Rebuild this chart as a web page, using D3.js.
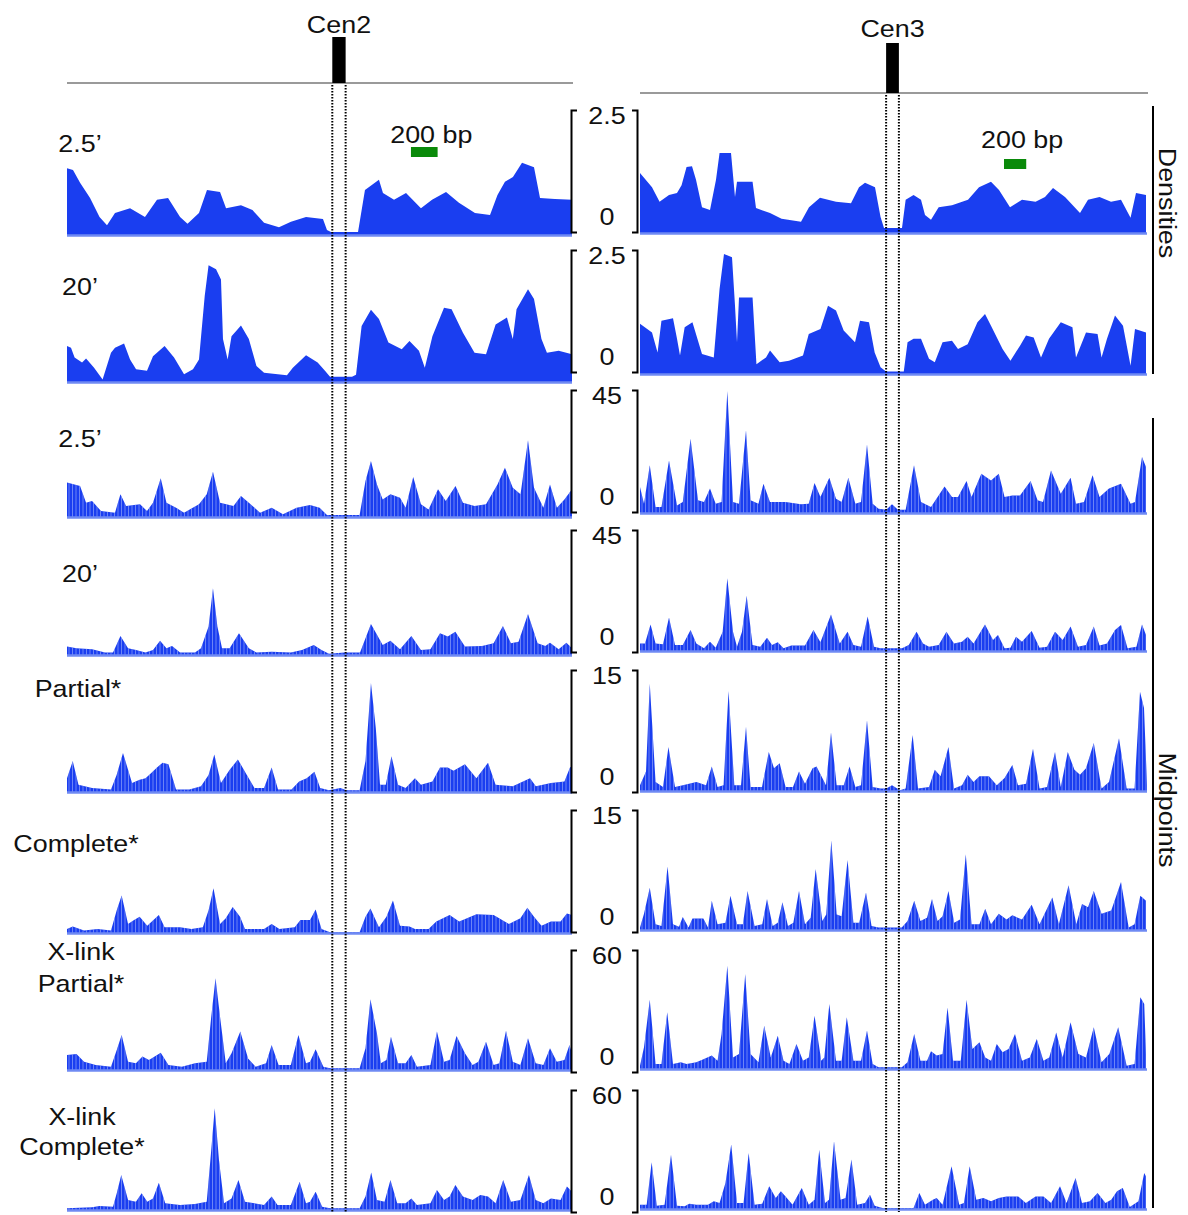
<!DOCTYPE html>
<html>
<head>
<meta charset="utf-8">
<script src="https://cdn.jsdelivr.net/npm/d3@7"></script>
<style>
  body { margin: 0; background: #fff; }
  svg { font-family: "Liberation Sans", Arial, sans-serif; }
</style>
</head>
<body>
<svg id="chart" width="1188" height="1215"></svg>
<script>
// ---- data (bp position, value) ----
const cen2Length = 3788;
const cen3Length = 4563;
const cen2Span = [1990, 2090];
const cen3Span = [2215, 2330];
const scaleBarBp = 200;
const scaleBarStart = [2580, 3276];

const rowLabels = [["2.5’"], ["20’"], ["2.5’"], ["20’"], ["Partial*"], ["Complete*"], ["X-link", "Partial*"], ["X-link", "Complete*"]];
const rowMax = [2.5, 2.5, 45, 45, 15, 15, 60, 60];
const groupLabels = ["Densities", "Midpoints"];

const cen2Dens25 = [[0,1.37],[45,1.33],[98,1.07],[173,0.76],[244,0.37],[300,0.2],[360,0.45],[473,0.55],[585,0.37],[675,0.72],[758,0.76],[848,0.37],[904,0.23],[990,0.45],[1050,0.92],[1148,0.88],[1193,0.55],[1305,0.61],[1391,0.51],[1478,0.25],[1590,0.16],[1680,0.27],[1793,0.37],[1920,0.33],[1950,0.1],[1980,0.06],[2183,0.06],[2235,0.92],[2340,1.13],[2370,0.86],[2453,0.72],[2543,0.86],[2655,0.55],[2738,0.72],[2843,0.88],[2940,0.66],[3060,0.45],[3173,0.41],[3229,0.82],[3285,1.09],[3345,1.19],[3413,1.48],[3503,1.39],[3548,0.76],[3660,0.74],[3788,0.72]];
const cen2Dens20 = [[0,0.74],[30,0.7],[57,0.5],[113,0.4],[143,0.48],[203,0.29],[267,0.05],[330,0.6],[360,0.7],[428,0.79],[473,0.46],[518,0.26],[600,0.23],[645,0.53],[732,0.74],[803,0.5],[878,0.16],[945,0.26],[990,0.46],[1033,1.76],[1062,2.39],[1118,2.31],[1155,2.1],[1170,0.88],[1205,0.46],[1234,0.94],[1305,1.16],[1364,0.88],[1421,0.33],[1478,0.19],[1650,0.14],[1694,0.29],[1793,0.55],[1880,0.4],[1935,0.23],[1973,0.11],[2138,0.11],[2168,0.15],[2210,1.15],[2280,1.48],[2340,1.29],[2411,0.81],[2511,0.67],[2569,0.84],[2640,0.64],[2684,0.29],[2741,0.94],[2828,1.52],[2885,1.49],[2970,1.01],[3057,0.6],[3143,0.57],[3215,1.18],[3300,1.32],[3344,0.88],[3372,1.49],[3458,1.9],[3503,1.7],[3559,0.88],[3600,0.6],[3688,0.64],[3788,0.57]];
const cen2Mid25 = [[0,12.7],[98,11.4],[143,5.3],[188,5.9],[255,2.2],[360,1.6],[401,8.4],[443,4.1],[548,4.7],[600,2.2],[645,5.3],[703,14.3],[746,5.3],[818,3.4],[878,1.6],[990,4.7],[1048,8.4],[1095,16.7],[1148,5.3],[1249,4.1],[1305,7.7],[1364,5.3],[1448,1.6],[1536,3.4],[1620,1],[1722,3.4],[1823,4.4],[1895,3.4],[1950,0.7],[2195,0.7],[2239,13.3],[2280,20.7],[2325,12],[2368,6.5],[2426,8.4],[2498,7.1],[2540,3.4],[2597,14.8],[2655,4.7],[2712,2.8],[2783,10.2],[2841,5.9],[2914,11.4],[2970,5.3],[3057,4.1],[3143,4.7],[3229,12],[3285,18.2],[3344,10.8],[3402,8.4],[3458,28.3],[3503,10.8],[3573,3.4],[3623,12],[3675,3.4],[3731,6.5],[3788,10.2]];
const cen2Mid20 = [[0,3.1],[71,2.5],[188,2.1],[285,0.9],[345,0.9],[401,7],[458,2.5],[518,1.8],[588,0.9],[645,1.8],[698,5.3],[746,2.5],[788,3.3],[848,0.9],[960,0.9],[1005,2.5],[1062,10.5],[1095,24.6],[1128,10.5],[1163,2.5],[1220,2.5],[1290,8],[1364,2.5],[1421,0.9],[1535,1.2],[1679,0.9],[1763,1.8],[1851,3.7],[1909,1.8],[1965,0.5],[2081,0.9],[2198,0.9],[2280,11.4],[2368,3.7],[2426,5.3],[2498,2.1],[2583,7],[2655,1.8],[2726,2.1],[2798,8],[2856,6.8],[2913,8.6],[2985,3.1],[3113,3.3],[3200,4.3],[3270,10.7],[3330,4.3],[3387,4.9],[3458,15.1],[3530,4.3],[3588,3.3],[3623,4.5],[3688,2.1],[3746,4.5],[3788,2.5]];
const cen2Partial = [[0,1.7],[43,3.8],[86,0.9],[188,0.5],[330,0.3],[372,2.1],[420,4.8],[488,1.1],[545,1.5],[589,1.7],[630,2.3],[675,3],[717,3.6],[761,3.4],[818,0.3],[918,0.3],[1005,0.7],[1062,2.1],[1105,4.6],[1155,1.1],[1219,2.7],[1282,4],[1349,2.1],[1406,0.5],[1478,0.5],[1535,3],[1583,0.3],[1684,0.3],[1741,1.3],[1798,1.7],[1856,2.5],[1899,0.5],[1965,0.2],[2051,0.5],[2095,0.2],[2195,0.2],[2239,3.8],[2280,13.4],[2316,7.9],[2348,0.9],[2391,0.9],[2434,4.4],[2483,0.9],[2540,0.5],[2610,1.7],[2655,0.9],[2741,1.3],[2798,3],[2856,3],[2899,2.6],[2985,3.4],[3071,1.7],[3158,3.6],[3215,0.9],[3344,0.7],[3473,1.7],[3517,0.7],[3630,1.1],[3731,1.3],[3773,3],[3788,3.2]];
const cen2Complete = [[0,0.5],[43,0.8],[128,0.3],[230,0.5],[330,0.3],[373,2.8],[410,4.6],[458,1.1],[503,1.6],[545,2],[602,0.9],[689,2.2],[732,0.7],[848,0.7],[933,0.5],[1019,0.7],[1062,2.8],[1099,5.5],[1148,1.1],[1191,1.8],[1243,3.2],[1298,2],[1335,0.5],[1478,0.5],[1535,1.1],[1593,0.5],[1708,0.7],[1751,1.6],[1823,1.6],[1865,2.9],[1909,0.5],[1973,0.1],[2195,0.1],[2239,2],[2276,3],[2340,0.7],[2396,2],[2445,4],[2498,0.9],[2569,0.8],[2610,0.5],[2712,0.5],[2770,1.4],[2870,2.2],[2942,1.4],[3000,1.8],[3071,2.3],[3200,2.2],[3315,1.1],[3401,1.8],[3453,3.1],[3503,2],[3559,0.9],[3630,1.4],[3702,1.4],[3750,2.4],[3788,2.2]];
const cen2XPartial = [[0,7.4],[71,7.9],[128,4.1],[215,2.5],[330,1.6],[373,9.8],[410,17.2],[458,4.1],[517,3.3],[566,6.6],[615,4.9],[703,8.5],[761,2.5],[861,1.6],[960,3.3],[1048,4.1],[1082,26.2],[1114,45.1],[1148,26.2],[1191,3.3],[1234,8.2],[1300,18.9],[1358,5.7],[1415,1.6],[1493,3.3],[1535,12.3],[1587,2.5],[1679,2.5],[1736,17.2],[1793,3.3],[1823,4.1],[1865,10.2],[1923,1.6],[1973,0.8],[2195,0.8],[2239,10.7],[2276,34.8],[2325,18],[2354,3.3],[2396,4.9],[2430,16.4],[2483,3.3],[2540,3.3],[2583,7.4],[2625,1.6],[2726,2.5],[2775,18.9],[2828,4.1],[2870,4.9],[2922,16.7],[2985,8.2],[3042,2.5],[3086,4.1],[3143,13.9],[3200,2.5],[3243,3.3],[3293,19.3],[3344,4.1],[3401,2.5],[3458,15.6],[3516,3.3],[3573,2.5],[3623,10.7],[3674,4.1],[3731,4.9],[3769,12.3],[3788,8.2]];
const cen2XComplete = [[0,0.8],[188,1.3],[244,2],[345,1.6],[373,8.2],[407,17.2],[458,4.9],[517,4.1],[560,8.2],[602,4.1],[645,5.7],[689,13.4],[737,3.3],[848,2.5],[960,3],[1048,4.1],[1082,29.5],[1108,50],[1140,24.6],[1178,3.3],[1234,5.7],[1286,14.8],[1335,4.1],[1478,2.5],[1535,6.6],[1579,2.5],[1679,2.5],[1745,13.9],[1793,3.3],[1823,4.1],[1865,9],[1914,1.6],[1973,0.8],[2195,0.8],[2239,6.6],[2282,18.4],[2325,4.9],[2382,4.1],[2426,14.8],[2477,3.3],[2540,3.3],[2583,5.7],[2625,2.5],[2726,3.3],[2775,9.8],[2828,4.9],[2870,6.6],[2913,12.3],[2970,6.6],[3042,4.9],[3100,7.4],[3158,6.6],[3215,3.3],[3272,14.8],[3330,4.1],[3401,4.9],[3465,17.2],[3516,4.9],[3573,3.3],[3630,5.7],[3702,4.9],[3750,11.5],[3788,9]];

const cen3Dens25 = [[0,1.23],[108,0.94],[176,0.64],[261,0.78],[333,0.82],[374,0.98],[419,1.35],[468,1.37],[504,1.09],[558,0.53],[630,0.47],[684,1.09],[716,1.64],[819,1.64],[855,0.74],[873,1.05],[1013,1.05],[1044,0.51],[1170,0.41],[1274,0.29],[1449,0.23],[1521,0.53],[1620,0.72],[1764,0.64],[1899,0.61],[1971,0.94],[2025,1.03],[2115,0.94],[2165,0.33],[2196,0.1],[2358,0.1],[2391,0.68],[2462,0.78],[2529,0.68],[2565,0.37],[2619,0.27],[2688,0.53],[2808,0.57],[2952,0.68],[3051,0.94],[3159,1.05],[3231,0.88],[3330,0.53],[3438,0.68],[3560,0.64],[3645,0.74],[3717,0.92],[3825,0.74],[3960,0.41],[4032,0.68],[4136,0.74],[4239,0.64],[4329,0.68],[4415,0.31],[4464,0.82],[4554,0.78]];
const cen3Dens20 = [[0,1.03],[108,0.85],[158,0.44],[193,1.09],[297,1.14],[333,0.72],[360,0.38],[402,0.96],[472,1.06],[558,0.41],[664,0.34],[716,1.74],[756,2.46],[828,2.39],[855,1.4],[873,0.65],[891,1.57],[1013,1.57],[1048,0.2],[1134,0.34],[1170,0.48],[1257,0.24],[1341,0.27],[1467,0.38],[1519,0.82],[1624,0.92],[1692,1.4],[1764,1.3],[1833,0.89],[1935,0.65],[1980,1.09],[2061,1.06],[2112,0.44],[2165,0.14],[2214,0.05],[2374,0.05],[2408,0.65],[2462,0.72],[2529,0.72],[2601,0.31],[2653,0.24],[2723,0.65],[2808,0.68],[2862,0.51],[2949,0.61],[3037,1.06],[3105,1.23],[3159,0.99],[3263,0.51],[3334,0.27],[3420,0.58],[3474,0.79],[3543,0.75],[3609,0.34],[3681,0.72],[3787,1.06],[3892,0.96],[3924,0.34],[4014,0.85],[4118,0.82],[4154,0.34],[4203,0.72],[4275,1.2],[4347,0.99],[4415,0.17],[4455,0.92],[4554,0.85]];
const cen3Mid25 = [[0,9.6],[36,3.4],[88,17.6],[140,2.2],[193,2.2],[261,19.4],[333,2.8],[385,4.1],[455,27.4],[522,4.7],[576,4.1],[630,9],[681,3.4],[734,4.1],[786,45],[837,4.1],[891,3.4],[954,30.5],[995,4.7],[1066,3.4],[1111,10.8],[1170,4.1],[1310,4.1],[1449,3.2],[1518,3.4],[1571,11.1],[1624,5.9],[1704,13],[1764,5.3],[1815,4.1],[1875,13],[1938,3.4],[1989,4.1],[2043,25.3],[2094,3.4],[2147,1.6],[2217,1.2],[2268,3.2],[2322,1.2],[2391,1.2],[2466,17.6],[2529,4.1],[2619,2.2],[2741,9.8],[2808,5.9],[2862,5.9],[2939,11.8],[2984,5.9],[3072,14.5],[3159,12],[3229,14.5],[3281,5.9],[3351,6.5],[3420,6.5],[3515,11.8],[3578,4.7],[3627,4.1],[3699,15.7],[3787,7.1],[3875,13],[3924,3.4],[3996,4.1],[4073,13.9],[4136,5.9],[4221,9],[4329,10.8],[4415,3.4],[4455,4.1],[4518,20.7],[4554,17]];
const cen3Mid20 = [[0,2.8],[45,2.8],[95,9.8],[140,2.8],[207,2.5],[261,12.4],[315,2.2],[385,2.2],[455,7.7],[507,2.8],[576,1],[630,3.4],[681,1.2],[744,7.1],[786,26.8],[837,7.1],[873,1.6],[918,7.1],[960,20.4],[1013,2.2],[1083,1.6],[1143,4.9],[1188,2.2],[1240,3.2],[1292,1],[1362,2],[1485,2],[1561,7.7],[1624,3.2],[1719,13.5],[1798,2.8],[1868,7.1],[1921,2.2],[1989,1.6],[2049,12.7],[2106,1.6],[2165,1],[2358,1],[2419,2.2],[2489,7.1],[2547,2.8],[2601,1.6],[2688,2.2],[2758,7.1],[2826,2.8],[2898,3.4],[2949,5.3],[3002,2.8],[3105,9.8],[3177,4.1],[3222,5.9],[3281,1],[3334,1.2],[3384,5.3],[3438,3.4],[3525,7.4],[3596,1.2],[3663,1.6],[3735,7.1],[3804,4.1],[3875,9],[3942,1.6],[4014,2.2],[4084,9],[4136,2],[4203,2.8],[4275,7.7],[4329,9.6],[4388,1],[4468,1.6],[4518,9.8],[4554,5.9]];
const cen3Partial = [[0,0.7],[54,2.4],[88,13.2],[140,1.1],[207,0.5],[256,5.4],[315,0.5],[385,0.7],[507,1.1],[594,0.7],[646,3],[698,0.5],[752,0.7],[797,12.3],[849,0.7],[909,0.7],[954,7.9],[995,0.5],[1098,0.5],[1159,4.8],[1206,2.8],[1257,3.4],[1310,0.5],[1377,0.5],[1431,2.4],[1485,0.9],[1553,2.8],[1589,3],[1674,0.7],[1719,7.2],[1770,0.7],[1833,0.7],[1886,3],[1938,0.5],[1989,0.7],[2043,8.7],[2094,0.5],[2165,0.3],[2217,0.3],[2268,0.7],[2340,0.1],[2391,0.3],[2454,6.9],[2502,0.3],[2601,0.5],[2653,2.6],[2705,1.8],[2776,5.4],[2826,0.3],[2898,0.7],[2949,2],[3002,1.1],[3055,1.8],[3141,1.8],[3211,0.7],[3281,1.6],[3351,3.2],[3402,0.7],[3474,0.9],[3537,5.2],[3596,0.3],[3663,0.5],[3735,4.8],[3787,0.5],[3850,4.8],[3910,2.6],[3960,2],[4014,2.8],[4084,5.9],[4154,0.3],[4221,1.1],[4311,6.5],[4380,0.3],[4451,0.3],[4500,12.2],[4536,10.2],[4563,0.7]];
const cen3Complete = [[0,0.3],[36,2],[88,5.2],[140,0.7],[193,0.5],[248,7.8],[297,0.7],[351,0.4],[385,1.6],[437,0.3],[472,1.4],[570,1.4],[612,0.3],[646,3.6],[698,0.7],[769,0.9],[814,4.2],[873,0.7],[926,0.7],[968,4.8],[1031,0.5],[1100,0.7],[1143,3.8],[1194,0.5],[1240,0.9],[1282,3.4],[1332,0.5],[1380,0.9],[1431,4.8],[1485,0.7],[1536,1.5],[1581,7.5],[1641,1.1],[1676,1.9],[1722,11],[1770,1.9],[1815,1.7],[1868,8.6],[1921,0.9],[1973,0.9],[2034,4.6],[2084,0.5],[2147,0.3],[2356,0.3],[2408,1.1],[2468,3.6],[2524,1.1],[2583,1.5],[2628,3.8],[2678,1.1],[2723,1.7],[2776,4.8],[2828,0.9],[2880,1.3],[2932,9.3],[2984,0.7],[3055,0.7],[3107,2.6],[3159,0.7],[3229,2],[3299,1.3],[3351,1.8],[3438,1.3],[3525,3.1],[3596,0.7],[3711,4],[3770,0.7],[3857,5.5],[3927,0.7],[3978,3.2],[4032,2.8],[4084,4.8],[4154,2],[4241,2.4],[4329,5.9],[4398,0.3],[4451,0.7],[4503,4.2],[4554,3.6]];
const cen3XPartial = [[0,1.6],[36,10.7],[88,34],[140,2.5],[193,2.5],[245,27.9],[297,2.5],[367,3.3],[419,2.5],[507,3.3],[576,4.9],[646,6.6],[698,4.1],[734,17.2],[786,50.8],[837,5.7],[891,7.4],[947,46.7],[995,7.4],[1066,3.3],[1118,21.3],[1177,5.7],[1240,16.4],[1292,4.1],[1345,2.5],[1408,12.3],[1467,4.1],[1519,5.7],[1571,26.2],[1631,4.1],[1659,5.7],[1704,32],[1764,4.1],[1815,4.1],[1861,25.4],[1921,4.1],[1989,4.1],[2043,18.9],[2094,2.5],[2147,0.8],[2356,0.8],[2408,3.3],[2468,17.2],[2524,4.1],[2583,4.1],[2619,8.7],[2670,6.6],[2723,7.4],[2768,30.3],[2817,4.1],[2887,4.1],[2939,34],[2992,9.8],[3055,13.1],[3107,5.7],[3159,4.1],[3211,12.3],[3263,8.2],[3317,9.8],[3375,17.2],[3438,4.1],[3508,5.7],[3571,14.8],[3631,4.1],[3683,5.7],[3746,18],[3804,5.7],[3875,23],[3945,7.4],[4014,5.7],[4084,20.5],[4154,3.3],[4224,7.4],[4304,20.5],[4380,1.6],[4451,2.5],[4503,35.3],[4538,32],[4554,7.4]];
const cen3XComplete = [[0,2.1],[60,2.1],[105,23],[151,1.6],[221,2.1],[279,26.7],[333,1.6],[402,1.3],[444,2.6],[507,2.1],[612,2.1],[664,3.8],[716,3],[769,12.8],[821,31.7],[873,3],[932,3],[978,27.6],[1031,2.1],[1100,2.6],[1163,11.2],[1222,5.4],[1268,8.7],[1310,6.2],[1373,2.1],[1456,10.3],[1519,2.1],[1571,4.6],[1613,29.2],[1665,3],[1701,4.6],[1746,33.3],[1805,4.6],[1850,5.4],[1903,24.3],[1955,2.1],[2025,3],[2070,7],[2112,1.6],[2182,0.5],[2462,0.5],[2514,7.9],[2565,2.1],[2636,4.6],[2670,5.4],[2723,2.1],[2804,21],[2873,2.1],[2915,3],[2967,21],[3027,4.6],[3090,5.4],[3159,3.8],[3229,5.4],[3299,6.2],[3404,6.2],[3473,3],[3560,6.2],[3631,6.2],[3700,3],[3780,11.2],[3839,3],[3920,15.3],[3978,3],[4049,3.8],[4118,7.9],[4189,3],[4241,4.6],[4293,8.7],[4345,10.3],[4408,1],[4486,3.8],[4538,17.7],[4554,16]];

const cen2Tracks = [cen2Dens25, cen2Dens20, cen2Mid25, cen2Mid20, cen2Partial, cen2Complete, cen2XPartial, cen2XComplete];
const cen3Tracks = [cen3Dens25, cen3Dens20, cen3Mid25, cen3Mid20, cen3Partial, cen3Complete, cen3XPartial, cen3XComplete];

// ---- layout ----
const blue = "#1a3ef0";
const svg = d3.select("#chart");
const trackH = 122;
const xL = d3.scaleLinear().domain([0, cen2Length]).range([67, 572]);
const xR = d3.scaleLinear().domain([0, cen3Length]).range([640, 1147]);
const leftBase = [235, 382, 517, 655, 792, 933, 1070, 1210];
const rightBase = [233, 374, 513, 651, 791, 930, 1069, 1209];
const stretch = 1.12; // text in the figure is a little wider than Arial

function label(x, y, txt, anchor = "middle", rot = 0) {
  svg.append("text")
    .attr("transform", `translate(${x},${y}) rotate(${rot}) scale(${stretch},1)`)
    .attr("text-anchor", anchor)
    .attr("font-size", 24)
    .attr("fill", "#111")
    .text(txt);
}

const panels = [
  { x: xL, base: leftBase, tracks: cen2Tracks, id: "L", span: cen2Span, lineY: 83, blockTop: 37, dotTop: 85, name: "Cen2", nameY: 33 },
  { x: xR, base: rightBase, tracks: cen3Tracks, id: "R", span: cen3Span, lineY: 93, blockTop: 43, dotTop: 95, name: "Cen3", nameY: 37 }
];

panels.forEach((p, pi) => {
  const [x0, x1] = p.x.range();

  // chromosome line + centromere block
  svg.append("line").attr("x1", x0).attr("x2", x1 + 1).attr("y1", p.lineY).attr("y2", p.lineY)
    .attr("stroke", "#9a9a9a").attr("stroke-width", 2);
  svg.append("rect")
    .attr("x", p.x(p.span[0])).attr("width", p.x(p.span[1]) - p.x(p.span[0]))
    .attr("y", p.blockTop).attr("height", p.lineY - p.blockTop)
    .attr("fill", "#000");
  label((p.x(p.span[0]) + p.x(p.span[1])) / 2, p.nameY, p.name);

  // tracks
  p.tracks.forEach((data, i) => {
    const base = p.base[i];
    const y = d3.scaleLinear().domain([0, rowMax[i]]).range([base, base - trackH]);
    const area = d3.area().x(d => p.x(d[0])).y0(base).y1(d => y(d[1]));
    const g = svg.append("g");
    const clipId = `clip${p.id}${i}`;
    g.append("clipPath").attr("id", clipId).append("path").attr("d", area(data));
    g.append("path").attr("d", area(data)).attr("fill", blue);
    if (i >= 2) {
      g.append("g").attr("clip-path", `url(#${clipId})`)
        .selectAll("line").data(d3.range(x0 + 2, x1, 3.5)).join("line")
        .attr("x1", d => d).attr("x2", d => d)
        .attr("y1", base - trackH - 5).attr("y2", base)
        .attr("stroke", "#b9c6fb").attr("stroke-width", 0.7).attr("opacity", 0.75);
    }
    g.append("line").attr("x1", x0).attr("x2", x1).attr("y1", base + 0.5).attr("y2", base + 0.5)
      .attr("stroke", "#6f8af3").attr("stroke-width", 2.5);
  });

  // dotted centromere guides
  p.span.forEach(s => {
    svg.append("line").attr("x1", p.x(s)).attr("x2", p.x(s))
      .attr("y1", p.dotTop).attr("y2", 1212)
      .attr("stroke", "#000").attr("stroke-width", 2).attr("stroke-dasharray", "1.5,1.5");
  });

  // 200 bp scale bar
  const sb = scaleBarStart[pi];
  const barY = pi === 0 ? 147 : 159;
  svg.append("rect").attr("x", p.x(sb)).attr("width", p.x(sb + scaleBarBp) - p.x(sb))
    .attr("y", barY).attr("height", 10).attr("fill", "#0a8a0a");
  label((p.x(sb) + p.x(sb + scaleBarBp)) / 2 + 7, pi === 0 ? 143 : 148, `${scaleBarBp} bp`);
});

// axes between panels
rowMax.forEach((m, i) => {
  const top = 110 + 140 * i, bot = 232 + 140 * i;
  const ya = d3.scaleLinear().domain([0, m]).range([bot, top]);
  svg.append("g").attr("transform", "translate(571,0)")
    .call(d3.axisRight(ya).tickValues([]).tickSizeOuter(6))
    .select(".domain").attr("stroke-width", 2);
  const ax = svg.append("g").attr("transform", "translate(637,0)")
    .call(d3.axisLeft(ya).tickValues([0, m]).tickSizeInner(0).tickSizeOuter(5).tickFormat(d3.format("")));
  ax.select(".domain").attr("stroke-width", 2);
  ax.selectAll(".tick line").remove();
  ax.selectAll(".tick text")
    .attr("x", null).attr("dy", null)
    .attr("font-size", 24).attr("font-family", "Liberation Sans, Arial, sans-serif")
    .attr("text-anchor", "middle").attr("fill", "#111")
    .attr("transform", d => `translate(-30,${d === 0 ? -8 : 13}) scale(${stretch},1)`);
});

// row labels
const labelX = [80, 80, 80, 80, 78, 76, 81, 82];
const labelY = [[152], [295], [447], [582], [697], [852], [960, 992], [1125, 1155]];
rowLabels.forEach((lines, i) => {
  lines.forEach((t, j) => label(labelX[i], labelY[i][j], t));
});

// right-hand group brackets
const groupSpans = [[106, 374], [418, 1208]];
const groupCenters = [203, 810];
groupLabels.forEach((t, i) => {
  svg.append("line").attr("x1", 1153).attr("x2", 1153)
    .attr("y1", groupSpans[i][0]).attr("y2", groupSpans[i][1])
    .attr("stroke", "#000").attr("stroke-width", 2);
  label(1159, groupCenters[i], t, "middle", 90);
});
</script>
</body>
</html>
